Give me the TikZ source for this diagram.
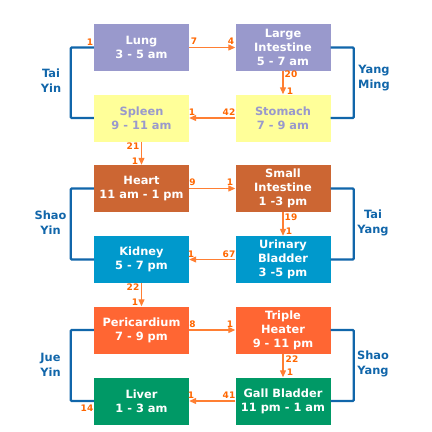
\documentclass[tikz,border=0pt]{standalone}
\usepackage{fontspec}
\setmainfont{DejaVu Sans}
\usetikzlibrary{arrows.meta}
\definecolor{lavender}{HTML}{9999CC}
\definecolor{paleyellow}{HTML}{FFFF99}
\definecolor{rust}{HTML}{CC6633}
\definecolor{cyanblue}{HTML}{0099CC}
\definecolor{tangerine}{HTML}{FF6633}
\definecolor{jade}{HTML}{009966}
\definecolor{channel}{HTML}{1166AA}
\definecolor{flowline}{HTML}{FF7F33}
\definecolor{hournum}{HTML}{FF6600}
\begin{document}
\begin{tikzpicture}[x=1pt,y=-1pt,
organ/.style={minimum width=95pt, minimum height=47pt, inner sep=0pt, align=center, text=white,
  font=\fontsize{11.4}{14}\selectfont\bfseries},
flow/.style={draw=flowline, line width=1.2pt, -{Triangle[length=7pt,width=6pt]}},
meridian/.style={draw=channel, line width=2.2pt, rounded corners=1pt},
pair/.style={text=channel, align=center, font=\fontsize{11.4}{15}\selectfont\bfseries},
num/.style={text=hournum, inner sep=0pt, font=\fontsize{9}{9}\selectfont\bfseries}]
\useasboundingbox (0,0) rectangle (432,432);
\node[organ, fill=lavender] (lung) at (141.5,47.5) {Lung\\3 - 5 am};
\node[organ, fill=lavender] (li) at (283,47.5) {Large\\Intestine\\5 - 7 am};
\node[organ, fill=paleyellow, text=lavender] (spleen) at (141.5,118) {Spleen\\9 - 11 am};
\node[organ, fill=paleyellow, text=lavender] (stomach) at (283,118) {Stomach\\7 - 9 am};
\node[organ, fill=rust] (heart) at (141.5,188.5) {Heart\\11 am - 1 pm};
\node[organ, fill=rust] (si) at (283,188.5) {Small\\Intestine\\1 -3 pm};
\node[organ, fill=cyanblue] (kidney) at (141.5,259.5) {Kidney\\5 - 7 pm};
\node[organ, fill=cyanblue] (ub) at (283,259.5) {Urinary\\Bladder\\3 -5 pm};
\node[organ, fill=tangerine] (pc) at (141.5,330) {Pericardium\\7 - 9 pm};
\node[organ, fill=tangerine] (th) at (283,330) {Triple\\Heater\\9 - 11 pm};
\node[organ, fill=jade] (liver) at (141.5,401) {Liver\\1 - 3 am};
\node[organ, fill=jade] (gb) at (283,401) {Gall Bladder\\11 pm - 1 am};

\draw[meridian] (lung.west) -| ([xshift=-23pt]spleen.west) -- (spleen.west);
\draw[meridian] (li.east) -| ([xshift=23pt]stomach.east) -- (stomach.east);
\draw[meridian] (heart.west) -| ([xshift=-23pt]kidney.west) -- (kidney.west);
\draw[meridian] (si.east) -| ([xshift=23pt]ub.east) -- (ub.east);
\draw[meridian] (pc.west) -| ([xshift=-23pt]liver.west) -- (liver.west);
\draw[meridian] (th.east) -| ([xshift=23pt]gb.east) -- (gb.east);
\node[pair] (taiyin) at (51,81) {Tai\\Yin};
\node[pair] (yangming) at (374,78) {Yang\\Ming};
\node[pair] (shaoyin) at (50.5,222.5) {Shao\\Yin};
\node[pair] (taiyang) at (373,223) {Tai\\Yang};
\node[pair] (jueyin) at (50.5,365) {Jue\\Yin};
\node[pair] (shaoyang) at (373,364) {Shao\\Yang};

\draw[flow] (lung) -- (li);
\draw[flow] (li) -- (stomach);
\draw[flow] (stomach) -- (spleen);
\draw[flow] (spleen) -- (heart);
\draw[flow] (heart) -- (si);
\draw[flow] (si) -- (ub);
\draw[flow] (ub) -- (kidney);
\draw[flow] (kidney) -- (pc);
\draw[flow] (pc) -- (th);
\draw[flow] (th) -- (gb);
\draw[flow] (gb) -- (liver);

\node[num] (n1a) at (90,42) {1};
\node[num] (n7) at (194,41) {7};
\node[num] (n4) at (231,41) {4};
\node[num] (n20) at (291,74) {20};
\node[num] (n1b) at (290,91) {1};
\node[num] (n42) at (229,112) {42};
\node[num] (n1c) at (192,112) {1};
\node[num] (n21) at (133,146) {21};
\node[num] (n1d) at (135,161) {1};
\node[num] (n9) at (192.5,182) {9};
\node[num] (n1e) at (230,182) {1};
\node[num] (n19) at (291,217) {19};
\node[num] (n1f) at (289,231) {1};
\node[num] (n67) at (229,254) {67};
\node[num] (n1g) at (191,254) {1};
\node[num] (n22a) at (133,287) {22};
\node[num] (n1h) at (135,302) {1};
\node[num] (n8) at (192.5,324) {8};
\node[num] (n1i) at (230,324) {1};
\node[num] (n22b) at (292,359) {22};
\node[num] (n1j) at (290,372) {1};
\node[num] (n41) at (229,395) {41};
\node[num] (n1k) at (191,395) {1};
\node[num] (n14) at (87,408) {14};
\end{tikzpicture}
\end{document}
